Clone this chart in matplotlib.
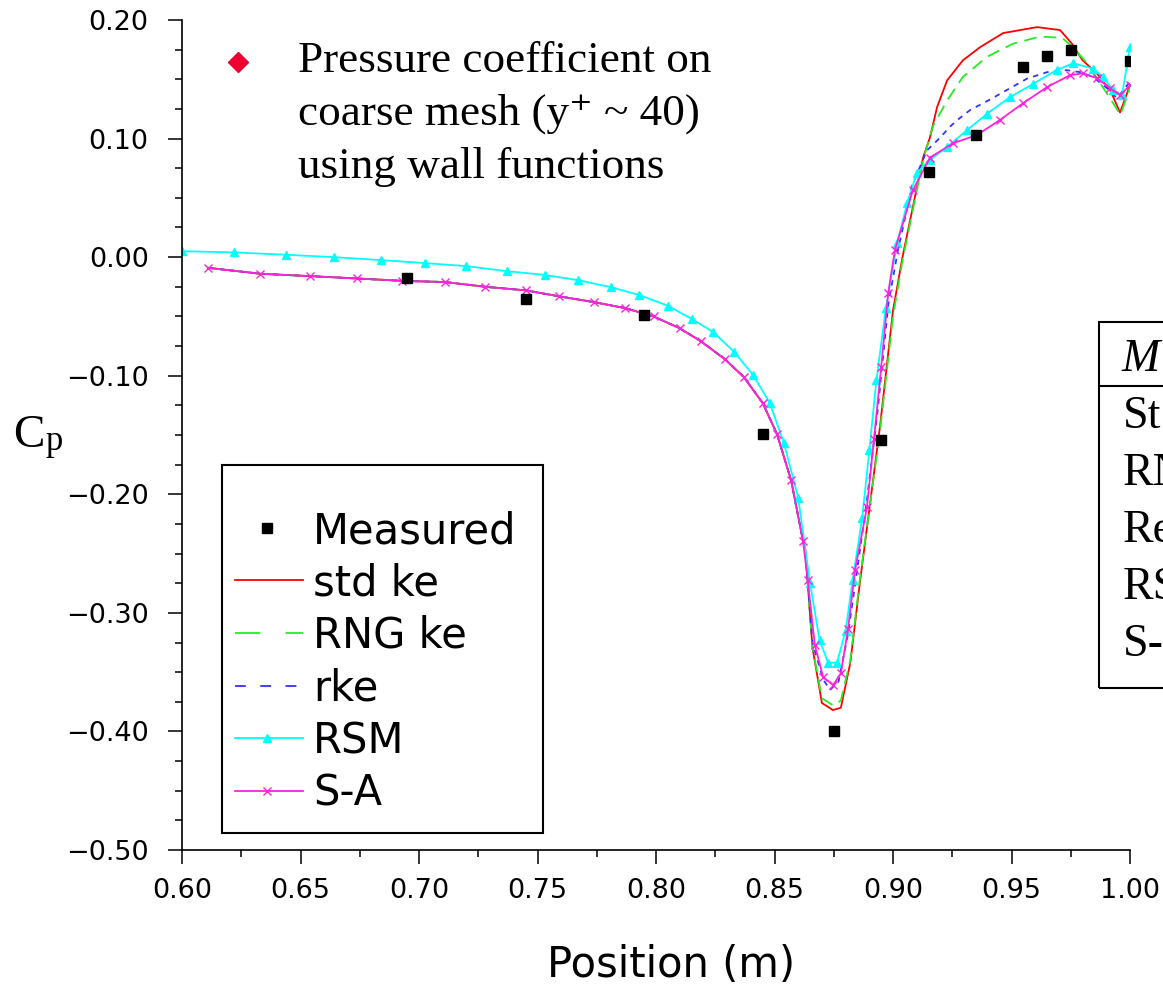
import matplotlib
matplotlib.use("Agg")
import matplotlib.pyplot as plt
from matplotlib.lines import Line2D
from matplotlib.patches import Rectangle
from matplotlib.ticker import MultipleLocator, FuncFormatter

W, H = 1163, 988

# measured Cp
meas_x = [0.695, 0.745, 0.795, 0.845, 0.875, 0.895, 0.915, 0.935, 0.955, 0.965, 0.975, 1.0]
meas_y = [-0.018, -0.035, -0.049, -0.149, -0.400, -0.154, 0.072, 0.103, 0.160, 0.170, 0.175, 0.165]

# upstream part shared by std ke / RNG ke / rke / S-A (curves lie on top of each other)
up_x = [0.611, 0.633, 0.654, 0.674, 0.693, 0.711, 0.728, 0.745, 0.759, 0.774,
        0.787, 0.799, 0.810, 0.819, 0.829, 0.837, 0.845, 0.851, 0.857, 0.862]
up_y = [-0.009, -0.014, -0.016, -0.018, -0.020, -0.021, -0.025, -0.028, -0.033, -0.038,
        -0.043, -0.050, -0.060, -0.071, -0.086, -0.101, -0.123, -0.149, -0.188, -0.239]

std_x = [0.863, 0.866, 0.870, 0.8747, 0.878, 0.882, 0.886, 0.8945, 0.900, 0.904, 0.9127,
         0.9156, 0.9186, 0.9228, 0.9295, 0.9367, 0.9465, 0.9608, 0.9705, 0.9755, 0.980,
         0.986, 0.9916, 0.9958, 1.0]
std_y = [-0.247, -0.329, -0.376, -0.382, -0.380, -0.342, -0.275, -0.143, -0.045, 0.000, 0.084,
         0.101, 0.1265, 0.149, 0.166, 0.177, 0.189, 0.194, 0.1915, 0.180, 0.166,
         0.155, 0.141, 0.122, 0.145]

rng_x = [0.863, 0.866, 0.870, 0.8747, 0.878, 0.882, 0.886, 0.8945, 0.900, 0.904, 0.9127,
         0.917, 0.9228, 0.9295, 0.9397, 0.9506, 0.962, 0.9713, 0.976, 0.9819, 0.9903,
         0.996, 1.0]
rng_y = [-0.247, -0.329, -0.372, -0.378, -0.374, -0.340, -0.272, -0.147, -0.050, -0.003, 0.082,
         0.111, 0.132, 0.152, 0.169, 0.180, 0.186, 0.185, 0.177, 0.1635, 0.138,
         0.120, 0.143]

rke_x = [0.863, 0.866, 0.8705, 0.8734, 0.877, 0.881, 0.885, 0.889, 0.8935, 0.898, 0.902,
         0.908, 0.9143, 0.920, 0.924, 0.928, 0.9325, 0.941, 0.9494, 0.9565, 0.965,
         0.9734, 0.979, 0.9844, 0.990, 0.9945, 1.0]
rke_y = [-0.247, -0.325, -0.356, -0.365, -0.358, -0.318, -0.262, -0.205, -0.130, -0.040, 0.005,
         0.060, 0.090, 0.101, 0.110, 0.117, 0.124, 0.133, 0.1425, 0.1505, 0.156,
         0.1577, 0.156, 0.152, 0.143, 0.134, 0.148]

sa_x = [0.864, 0.867, 0.8705, 0.8747, 0.878, 0.881, 0.884, 0.889, 0.892, 0.895, 0.898,
        0.9008, 0.9084, 0.9156, 0.9253, 0.9354, 0.945, 0.955, 0.965, 0.9747, 0.980,
        0.986, 0.9916, 0.9958, 1.0]
sa_y = [-0.272, -0.327, -0.354, -0.361, -0.351, -0.314, -0.264, -0.211, -0.153, -0.093, -0.030,
        0.006, 0.0565, 0.084, 0.096, 0.103, 0.1155, 0.130, 0.1434, 0.1535, 0.155,
        0.151, 0.1425, 0.1366, 0.145]

rsm_x = [0.600, 0.622, 0.644, 0.664, 0.684, 0.7025, 0.720, 0.737, 0.753, 0.767, 0.781,
         0.793, 0.805, 0.815, 0.824, 0.833, 0.841, 0.848, 0.854, 0.860, 0.865, 0.869,
         0.8726, 0.8764, 0.880, 0.883, 0.887, 0.890, 0.893, 0.897, 0.9017, 0.906, 0.910,
         0.9156, 0.9228, 0.9312, 0.9397, 0.9494, 0.959, 0.969, 0.976, 0.9844, 0.9886,
         0.9928, 0.9966, 1.0]
rsm_y = [0.005, 0.004, 0.002, 0.000, -0.0025, -0.005, -0.0076, -0.0118, -0.015, -0.0194, -0.0253,
         -0.032, -0.041, -0.052, -0.063, -0.080, -0.0995, -0.123, -0.157, -0.203, -0.275, -0.323,
         -0.342, -0.342, -0.315, -0.272, -0.220, -0.163, -0.104, -0.043, 0.0118, 0.0455, 0.071,
         0.082, 0.093, 0.107, 0.121, 0.135, 0.146, 0.1577, 0.1635, 0.159, 0.152,
         0.141, 0.1366, 0.177]

# model table, only the part that fits in the picture
table_head = "M"
table_rows = ["St", "RN", "Re", "RS", "S-"]

SANS = "DejaVu Sans"
SERIF = ["Liberation Serif", "DejaVu Serif"]


def fx(px):
    return px / W


def fy(py):
    return 1 - py / H


fig = plt.figure(figsize=(W / 100, H / 100), dpi=100)
ax = fig.add_axes([fx(182), fy(850), fx(1130) - fx(182), fy(20) - fy(850)])

ax.plot(up_x + std_x, up_y + std_y, color="#ff0000", lw=1.3)
ax.plot(up_x + rng_x, up_y + rng_y, color="#22ee22", lw=1.3, dashes=[7, 4])
ax.plot(up_x + rke_x, up_y + rke_y, color="#3333ff", lw=1.3, dashes=[3, 3])
ax.plot(rsm_x, rsm_y, color="#00ffff", lw=1.3, marker="^", ms=6)
ax.plot(up_x + sa_x, up_y + sa_y, color="#ff22dd", lw=1.3, marker="x", ms=6, mew=1)
ax.plot(meas_x, meas_y, ls="none", marker="s", ms=6.5, color="black")

ax.set_xlim(0.6, 1.0)
ax.set_ylim(-0.5, 0.2)
for s in ["top", "right"]:
    ax.spines[s].set_visible(False)
ax.spines["left"].set_linewidth(1.2)
ax.spines["bottom"].set_linewidth(1.2)
ax.xaxis.set_major_locator(MultipleLocator(0.05))
ax.xaxis.set_minor_locator(MultipleLocator(0.025))
ax.yaxis.set_major_locator(MultipleLocator(0.1))
ax.yaxis.set_minor_locator(MultipleLocator(0.025))
ax.xaxis.set_major_formatter(FuncFormatter(lambda v, p: f"{v:.2f}"))
ax.yaxis.set_major_formatter(FuncFormatter(lambda v, p: f"{v:.2f}".replace("-", "\u2212")))
ax.tick_params(which="major", direction="out", length=10, width=1.1, labelsize=19.5)
ax.tick_params(which="minor", direction="out", length=5, width=1.1)
ax.tick_params(axis="y", which="major", pad=14)
ax.tick_params(axis="x", which="major", pad=10)
for lab in ax.get_xticklabels() + ax.get_yticklabels():
    lab.set_fontfamily(SANS)

fig.text(fx(671), fy(965), "Position (m)", family=SANS, fontsize=30, ha="center", va="center")

# C_p label
fig.text(fx(13), fy(447), "C", family=SERIF, fontsize=34, va="baseline")
fig.text(fx(46), fy(450), "p", family=SERIF, fontsize=25, va="baseline")

# annotation at top left
fig.add_artist(Line2D([fx(238)], [fy(62)], transform=fig.transFigure, ls="none",
                      marker="D", ms=10, color="#ee0030"))
for i, line in enumerate(["Pressure coefficient on", "coarse mesh (y\u207a ~ 40)", "using wall functions"]):
    fig.text(fx(298), fy(72 + 53 * i), line, family=SERIF, fontsize=32.5, va="baseline")

# legend box
fig.add_artist(Rectangle((fx(222), fy(833)), fx(543) - fx(222), fy(465) - fy(833),
                         transform=fig.transFigure, fill=False, ec="black", lw=1.5))
rows = [("Measured", None, dict(marker="s", ms=6.5, color="black")),
        ("std ke", dict(color="#ff0000", lw=1.3), None),
        ("RNG ke", dict(color="#22ee22", lw=1.3, dashes=[14, 14]), None),
        ("rke", dict(color="#3333ff", lw=1.3, dashes=[6, 8]), None),
        ("RSM", dict(color="#00ffff", lw=1.3), dict(marker="^", ms=6, color="#00ffff")),
        ("S-A", dict(color="#ff22dd", lw=1.3), dict(marker="x", ms=6, mew=1, color="#ff22dd"))]
for i, (name, line_kw, mark_kw) in enumerate(rows):
    yy = 528 + 52.5 * i
    if line_kw:
        fig.add_artist(Line2D([fx(235), fx(303)], [fy(yy)] * 2, transform=fig.transFigure, **line_kw))
    if mark_kw:
        fig.add_artist(Line2D([fx(267)], [fy(yy)], transform=fig.transFigure, ls="none", **mark_kw))
    fig.text(fx(313), fy(yy + 15), name, family=SANS, fontsize=30, va="baseline")

# model table cut off at the right edge
fig.add_artist(Rectangle((fx(1099), fy(688)), fx(1400) - fx(1099), fy(322) - fy(688),
                         transform=fig.transFigure, fill=False, ec="black", lw=1.5))
fig.add_artist(Line2D([fx(1099), fx(1400)], [fy(386)] * 2, transform=fig.transFigure,
                      color="black", lw=1.5))
fig.text(fx(1122), fy(371), table_head, family=SERIF, style="italic", fontsize=33, va="baseline")
for i, name in enumerate(table_rows):
    fig.text(fx(1123), fy(428 + 57 * i), name, family=SERIF, fontsize=33, va="baseline")

fig.savefig("out.png", dpi=100)
